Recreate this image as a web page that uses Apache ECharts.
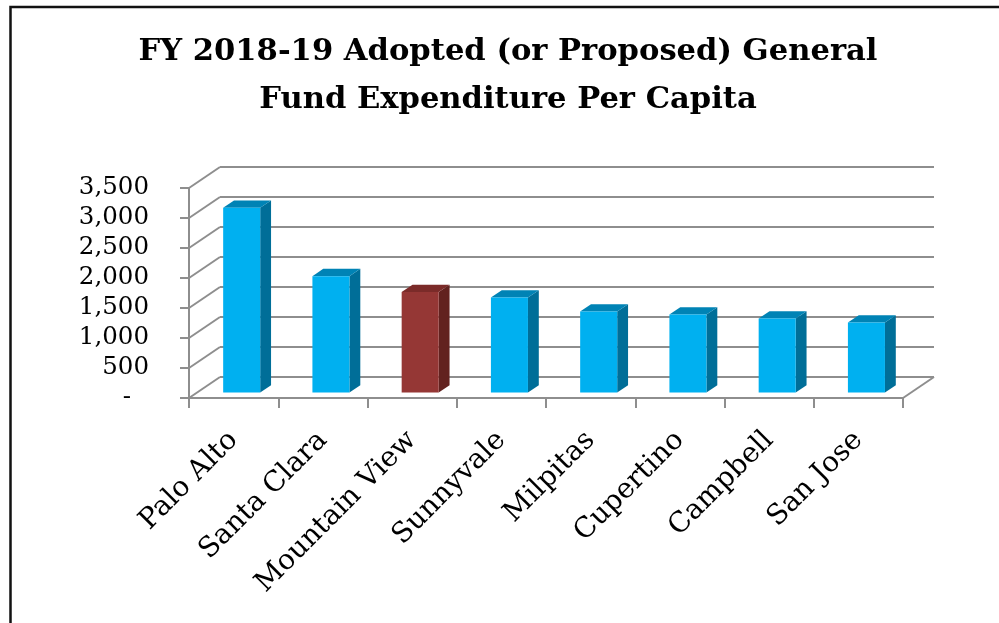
<!DOCTYPE html>
<html>
<head>
<meta charset="utf-8">
<style>
  html, body { margin: 0; padding: 0; background: #ffffff; }
  #chart { width: 999px; height: 623px; }
</style>
<script src="https://cdn.jsdelivr.net/npm/echarts@6/dist/echarts.min.js"></script>
</head>
<body>
<div id="chart"></div>
<script>
// General Fund expenditure per capita, FY 2018-19
const cities = ['Palo Alto', 'Santa Clara', 'Mountain View', 'Sunnyvale', 'Milpitas', 'Cupertino', 'Campbell', 'San Jose'];
const perCapita = [3080, 1940, 1675, 1582, 1350, 1300, 1234, 1167];
const highlightCity = 'Mountain View';
const yTicks = [0, 500, 1000, 1500, 2000, 2500, 3000, 3500];

// Pseudo-3D depth of the plot box (pixels) and bar placement within it
const DEPTH_X = 31;
const DEPTH_Y = -21;
const BAR_FRONT = 0.26;   // fraction of depth where the bar front face sits
const BAR_BACK = 0.61;    // fraction of depth where the bar back face sits
const BAR_WIDTH = 0.415;  // fraction of the category band

const SERIF = '"DejaVu Serif", "Liberation Serif", serif';
const GRID_COLOR = '#8e8e8e';

const palette = {
  normal: { front: '#00b0f0', side: '#006e98', top: '#0083b5' },
  highlight: { front: '#953735', side: '#62221f', top: '#7b2b29' }
};

const chart = echarts.init(document.getElementById('chart'));

// Back wall, side wall and floor, one row per value-axis tick
function renderFrame(params, api) {
  const v = api.value(1);
  const bandW = api.size([1, 0])[0];
  const pL = api.coord([0, v]);
  const pR = api.coord([cities.length - 1, v]);
  const xL = pL[0] - bandW / 2;
  const xR = pR[0] + bandW / 2;
  const y = pL[1];
  const style = { stroke: GRID_COLOR, lineWidth: 2, fill: null };
  const children = [
    { type: 'line', shape: { x1: xL, y1: y, x2: xL + DEPTH_X, y2: y + DEPTH_Y }, style },
    { type: 'line', shape: { x1: xL + DEPTH_X, y1: y + DEPTH_Y, x2: xR + DEPTH_X, y2: y + DEPTH_Y }, style }
  ];
  if (v === 0) {
    children.push({ type: 'line', shape: { x1: xR, y1: y, x2: xR + DEPTH_X, y2: y + DEPTH_Y }, style });
  }
  return { type: 'group', children };
}

// Box-shaped bars: front, right side and top faces
function renderBar(params, api) {
  const idx = params.dataIndex;
  const val = api.value(1);
  const base = api.coord([idx, 0]);
  const top = api.coord([idx, val]);
  const bandW = api.size([1, 0])[0];
  const w = bandW * BAR_WIDTH;
  const x0 = base[0] - w / 2 + BAR_FRONT * DEPTH_X;
  const x1 = x0 + w;
  const dx = (BAR_BACK - BAR_FRONT) * DEPTH_X;
  const yTopF = top[1] + BAR_FRONT * DEPTH_Y;
  const yBotF = base[1] + BAR_FRONT * DEPTH_Y;
  const yTopB = top[1] + BAR_BACK * DEPTH_Y;
  const yBotB = base[1] + BAR_BACK * DEPTH_Y;
  const c = cities[idx] === highlightCity ? palette.highlight : palette.normal;
  return {
    type: 'group',
    children: [
      { type: 'polygon', shape: { points: [[x1, yTopF], [x1 + dx, yTopB], [x1 + dx, yBotB], [x1, yBotF]] }, style: { fill: c.side } },
      { type: 'polygon', shape: { points: [[x0, yTopF], [x1, yTopF], [x1 + dx, yTopB], [x0 + dx, yTopB]] }, style: { fill: c.top } },
      { type: 'rect', shape: { x: x0, y: yTopF, width: w, height: yBotF - yTopF }, style: { fill: c.front } }
    ]
  };
}

chart.setOption({
  animation: false,
  backgroundColor: '#ffffff',
  title: {
    text: 'FY 2018-19 Adopted (or Proposed) General\nFund Expenditure Per Capita',
    left: 503,
    top: 23,
    textAlign: 'center',
    textStyle: {
      fontFamily: SERIF,
      fontWeight: 'bold',
      fontSize: 30.6,
      lineHeight: 48,
      color: '#000000'
    }
  },
  graphic: [
    {
      type: 'polyline',
      shape: { points: [[10.5, 623], [10.5, 7], [999, 7]] },
      style: { stroke: '#111111', lineWidth: 2.5, fill: null },
      z: 10
    }
  ],
  grid: { left: 189, right: 96, top: 188, bottom: 225, containLabel: false },
  xAxis: {
    type: 'category',
    data: cities,
    boundaryGap: true,
    axisLine: { show: true, lineStyle: { color: GRID_COLOR, width: 2 } },
    axisTick: { show: true, length: 10, lineStyle: { color: GRID_COLOR, width: 2 } },
    splitLine: { show: false },
    axisLabel: {
      interval: 0,
      rotate: 45,
      margin: 38,
      fontFamily: SERIF,
      fontSize: 28,
      color: '#000000'
    }
  },
  yAxis: {
    type: 'value',
    min: 0,
    max: 3500,
    interval: 500,
    axisLine: { show: true, lineStyle: { color: GRID_COLOR, width: 2 } },
    axisTick: { show: true, length: 9, lineStyle: { color: GRID_COLOR, width: 2 } },
    splitLine: { show: false },
    axisLabel: {
      margin: 40,
      fontFamily: SERIF,
      fontSize: 24.5,
      color: '#000000',
      formatter: function (v) {
        return v === 0 ? '{dash|-}' : v.toLocaleString('en-US');
      },
      rich: {
        dash: { fontFamily: SERIF, fontSize: 24.5, color: '#000000', padding: [0, 18, 0, 0] }
      }
    }
  },
  series: [
    {
      name: 'frame',
      type: 'custom',
      renderItem: renderFrame,
      data: yTicks.map(function (v) { return [cities[0], v]; }),
      encode: { x: 0, y: 1 },
      silent: true,
      z: 1
    },
    {
      name: 'General Fund Expenditure Per Capita',
      type: 'custom',
      renderItem: renderBar,
      data: cities.map(function (c, i) { return [c, perCapita[i]]; }),
      encode: { x: 0, y: 1 },
      z: 5
    }
  ]
});
</script>
</body>
</html>
